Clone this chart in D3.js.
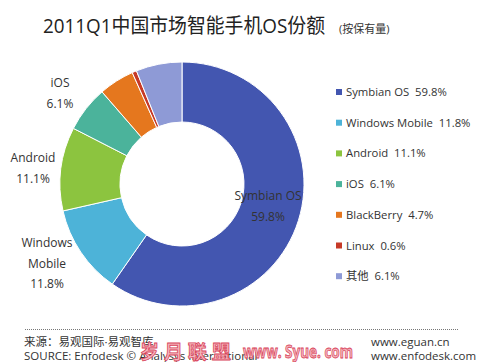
<!DOCTYPE html>
<meta charset="utf-8">
<style>
body { margin: 0; background: #fff; }
svg { font-family: "Open Sans", "Noto Sans CJK SC", sans-serif; }
.lbl { font-size: 12px; fill: #333; }
.leg { font-size: 11.3px; fill: #333; }
</style>
<svg width="490" height="362"></svg>
<script src="https://d3js.org/d3.v7.min.js"></script>
<script>
var names = ["Symbian OS", "Windows Mobile", "Android", "iOS", "BlackBerry", "Linux", "其他"];
var shares = [59.8, 11.8, 11.1, 6.1, 4.7, 0.6, 6.1];
var colors = ["#4356b0", "#4db3d8", "#8cc43f", "#4bb39b", "#e5771e", "#c63a27", "#8e9ad6"];
// slice labels shown on the ring (line breaks as in the picture)
var ringLabels = [
  {i: 0, lines: ["Symbian  OS", "59.8%"], x: 268, y: 200},
  {i: 1, lines: ["Windows", "Mobile", "11.8%"], x: 47, y: 247},
  {i: 2, lines: ["Android", "11.1%"], x: 33, y: 162},
  {i: 3, lines: ["iOS", "6.1%"], x: 60, y: 87}
];

var svg = d3.select("svg");
var cx = 182, cy = 184, rOuter = 122, rInner = 62;

svg.append("text")
    .attr("x", 43).attr("y", 33)
    .style("font-size", "20px").style("fill", "#222")
    .attr("textLength", 282).attr("lengthAdjust", "spacingAndGlyphs")
    .text("2011Q1中国市场智能手机OS份额");
svg.append("text")
    .attr("x", 339).attr("y", 33)
    .style("font-size", "11px").style("fill", "#333")
    .text("(按保有量)");

var pie = d3.pie().sort(null).value(function(d) { return d; });
var arc = d3.arc().innerRadius(rInner).outerRadius(rOuter);

var g = svg.append("g").attr("transform", "translate(" + cx + "," + cy + ")");
g.selectAll("path")
  .data(pie(shares))
  .enter().append("path")
    .attr("d", arc)
    .attr("fill", function(d, i) { return colors[i]; })
    .attr("stroke", "#fff")
    .attr("stroke-width", 1);

ringLabels.forEach(function(l) {
  var t = svg.append("text").attr("class", "lbl").attr("text-anchor", "middle");
  l.lines.forEach(function(s, k) {
    t.append("tspan").attr("x", l.x).attr("y", l.y + k * 20.5).text(s);
  });
});

// legend
var leg = svg.append("g").selectAll("g")
  .data(names)
  .enter().append("g")
    .attr("transform", function(d, i) { return "translate(336," + (92 + i * 30.7) + ")"; });
leg.append("rect")
    .attr("x", 0).attr("y", -3).attr("width", 6).attr("height", 6)
    .attr("fill", function(d, i) { return colors[i]; });
leg.append("text")
    .attr("class", "leg")
    .attr("x", 10).attr("y", 4)
    .text(function(d, i) { return d + "  " + shares[i].toFixed(1) + "%"; })
    .style("white-space", "pre");

// footer
svg.append("line")
    .attr("x1", 25).attr("x2", 459).attr("y1", 329.5).attr("y2", 329.5)
    .attr("stroke", "#777").attr("stroke-dasharray", "1,1");
var foot = [
  {t: "来源：易观国际·易观智库", x: 24, y: 346},
  {t: "SOURCE: Enfodesk © Analysys International", x: 24, y: 360},
  {t: "www.eguan.cn", x: 371, y: 346},
  {t: "www.enfodesk.com", x: 371, y: 360}
];
svg.selectAll(".foot")
  .data(foot)
  .enter().append("text")
    .attr("class", "foot")
    .attr("x", function(d) { return d.x; })
    .attr("y", function(d) { return d.y; })
    .style("font-size", "11.5px").style("fill", "#333")
    .text(function(d) { return d.t; });

// watermark
svg.append("text")
    .attr("x", 140).attr("y", 359)
    .style("font-size", "19px").style("font-weight", "bold")
    .style("fill", "#f4b6bd").style("stroke", "#d9435a").style("stroke-width", 0.8)
    .style("white-space", "pre")
    .text("岁 月 联 盟");
svg.append("text")
    .attr("x", 243).attr("y", 358)
    .style("font-size", "17px").style("font-weight", "bold")
    .style("fill", "#f4b6bd").style("stroke", "#d9435a").style("stroke-width", 0.8)
    .attr("textLength", 110).attr("lengthAdjust", "spacingAndGlyphs")
    .text("www. Syue. com");
</script>
